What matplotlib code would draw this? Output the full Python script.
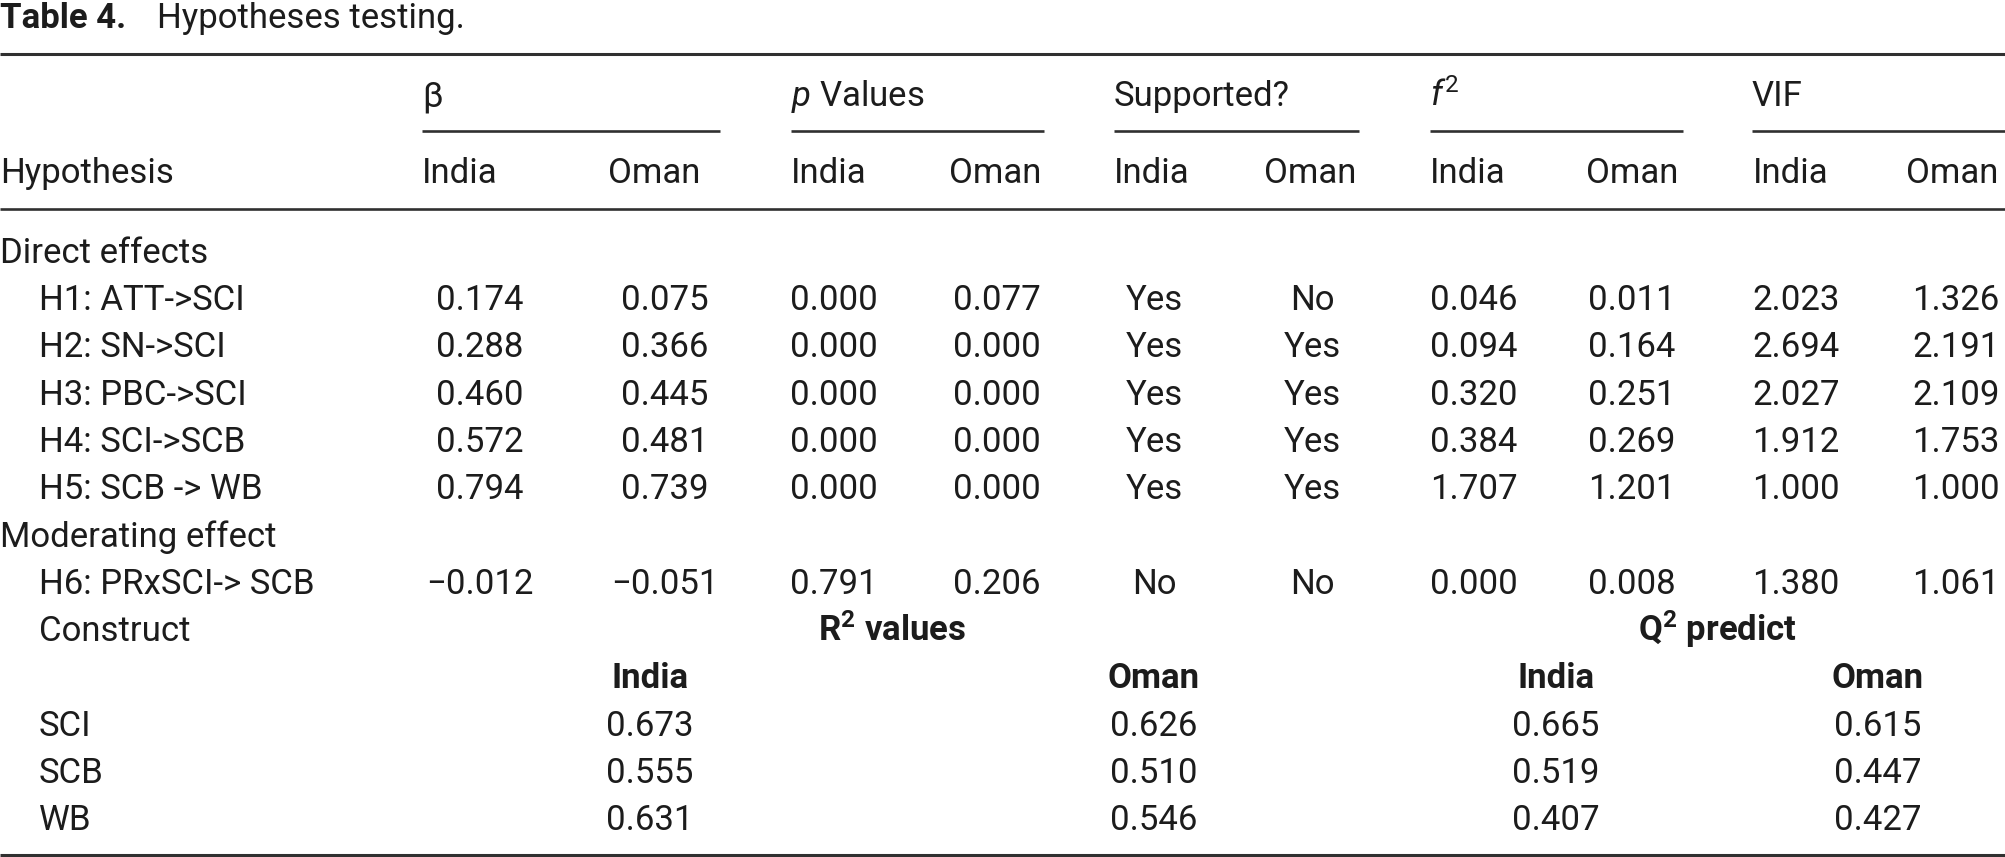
import matplotlib
matplotlib.use('Agg')
import matplotlib.pyplot as plt

plt.rcParams['font.family'] = ['Roboto', 'DejaVu Sans']
plt.rcParams['mathtext.fontset'] = 'custom'
plt.rcParams['mathtext.rm'] = 'Roboto'
plt.rcParams['mathtext.it'] = 'Roboto:italic'
plt.rcParams['mathtext.bf'] = 'Roboto:bold'

# data
hypotheses = ['H1: ATT->SCI', 'H2: SN->SCI', 'H3: PBC->SCI', 'H4: SCI->SCB',
              'H5: SCB -> WB', 'H6: PRxSCI-> SCB']
beta_india = [0.174, 0.288, 0.460, 0.572, 0.794, -0.012]
beta_oman = [0.075, 0.366, 0.445, 0.481, 0.739, -0.051]
p_india = [0.000, 0.000, 0.000, 0.000, 0.000, 0.791]
p_oman = [0.077, 0.000, 0.000, 0.000, 0.000, 0.206]
sup_india = ['Yes', 'Yes', 'Yes', 'Yes', 'Yes', 'No']
sup_oman = ['No', 'Yes', 'Yes', 'Yes', 'Yes', 'No']
f2_india = [0.046, 0.094, 0.320, 0.384, 1.707, 0.000]
f2_oman = [0.011, 0.164, 0.251, 0.269, 1.201, 0.008]
vif_india = [2.023, 2.694, 2.027, 1.912, 1.000, 1.380]
vif_oman = [1.326, 2.191, 2.109, 1.753, 1.000, 1.061]

constructs = ['SCI', 'SCB', 'WB']
r2_india = [0.673, 0.555, 0.631]
r2_oman = [0.626, 0.510, 0.546]
q2_india = [0.665, 0.519, 0.407]
q2_oman = [0.615, 0.447, 0.427]

groups = ['β', '$p$ Values', 'Supported?', '$f^2$', 'VIF']

TXT = '#1c1c1c'
LINE = '#303030'
FS = 25


def fmt(v):
    return f'{v:.3f}'.replace('-', '\u2212')


def row_y(k):
    return 310 + 47.3 * k


fig = plt.figure(figsize=(20.06, 8.57), dpi=100)
ax = fig.add_axes([0, 0, 1, 1])
ax.set_xlim(0, 2006)
ax.set_ylim(857, 0)
ax.axis('off')

# title
ax.text(0, 28, 'Table 4.', fontsize=FS, fontweight='bold', color=TXT, va='baseline')
ax.text(157, 28, 'Hypotheses testing.', fontsize=FS, color=TXT, va='baseline')

# rules
ax.hlines(54, 0, 2006, color=LINE, lw=2.2)
ax.hlines(209, 0, 2006, color=LINE, lw=1.9)
ax.hlines(855, 0, 2006, color=LINE, lw=2.2)

col_left = [422, 608, 791, 949, 1114, 1264, 1430, 1586, 1753, 1906]
col_mid = [480, 665, 834, 997, 1154, 1312, 1474, 1632, 1796, 1956]
group_span = [(422, 720), (791, 1044), (1114, 1359), (1430, 1683), (1752, 2006)]

for name, (x0, x1) in zip(groups, group_span):
    ax.text(x0, 106, name, fontsize=FS, color=TXT, va='baseline')
    ax.hlines(131, x0, x1, color=LINE, lw=1.9)

ax.text(0, 183, 'Hypothesis', fontsize=FS, color=TXT, va='baseline')
for i, x in enumerate(col_left):
    ax.text(x, 183, 'India' if i % 2 == 0 else 'Oman', fontsize=FS, color=TXT, va='baseline')

ax.text(0, row_y(-1), 'Direct effects', fontsize=FS, color=TXT, va='baseline')
ax.text(0, row_y(5), 'Moderating effect', fontsize=FS, color=TXT, va='baseline')

columns = [beta_india, beta_oman, p_india, p_oman, sup_india, sup_oman,
           f2_india, f2_oman, vif_india, vif_oman]
for i, label in enumerate(hypotheses):
    k = i if i < 5 else 6
    y = row_y(k)
    ax.text(39, y, label, fontsize=FS, color=TXT, va='baseline')
    for x, col in zip(col_mid, columns):
        v = col[i]
        s = v if isinstance(v, str) else fmt(v)
        ax.text(x, y, s, fontsize=FS, color=TXT, va='baseline', ha='center')

# construct section
ax.text(39, row_y(7), 'Construct', fontsize=FS, color=TXT, va='baseline')
ax.text(892, row_y(7), '$\\mathbf{R^2}$ values', fontsize=FS, fontweight='bold',
        color=TXT, va='baseline', ha='center')
ax.text(1717, row_y(7), '$\\mathbf{Q^2}$ predict', fontsize=FS, fontweight='bold',
        color=TXT, va='baseline', ha='center')

lower_mid = [650, 1154, 1556, 1878]
for x, name in zip(lower_mid, ['India', 'Oman', 'India', 'Oman']):
    ax.text(x, row_y(8), name, fontsize=FS, fontweight='bold', color=TXT,
            va='baseline', ha='center')

lower_cols = [r2_india, r2_oman, q2_india, q2_oman]
for j, c in enumerate(constructs):
    y = row_y(9 + j)
    ax.text(39, y, c, fontsize=FS, color=TXT, va='baseline')
    for x, col in zip(lower_mid, lower_cols):
        ax.text(x, y, fmt(col[j]), fontsize=FS, color=TXT, va='baseline', ha='center')

fig.savefig('out.png', dpi=100, facecolor='white')
